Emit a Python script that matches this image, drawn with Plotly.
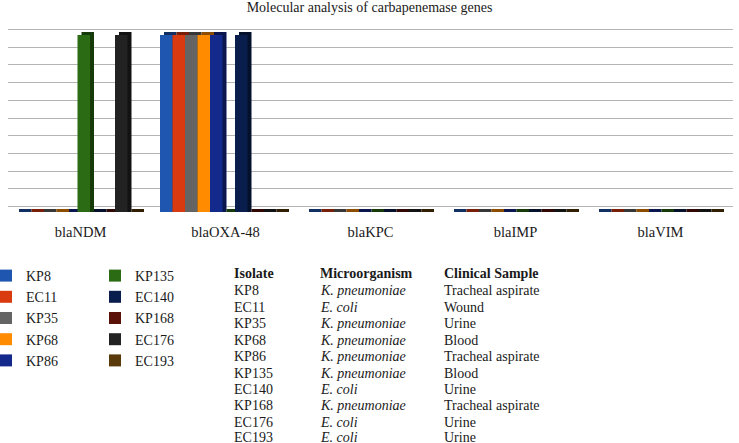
import plotly.graph_objects as go

# ---------------- data ----------------
genes = ["blaNDM", "blaOXA-48", "blaKPC", "blaIMP", "blaVIM"]
isolates = ["KP8", "EC11", "KP35", "KP68", "KP86", "KP135", "EC140", "KP168", "EC176", "EC193"]
kp8 = [0, 1, 0, 0, 0]
ec11 = [0, 1, 0, 0, 0]
kp35 = [0, 1, 0, 0, 0]
kp68 = [0, 1, 0, 0, 0]
kp86 = [0, 1, 0, 0, 0]
kp135 = [1, 0, 0, 0, 0]
ec140 = [0, 1, 0, 0, 0]
kp168 = [0, 0, 0, 0, 0]
ec176 = [1, 0, 0, 0, 0]
ec193 = [0, 0, 0, 0, 0]
series_values = [kp8, ec11, kp35, kp68, kp86, kp135, ec140, kp168, ec176, ec193]

table_headers = ["Isolate", "Microorganism", "Clinical Sample"]
microorganisms = ["K. pneumoniae", "E. coli", "K. pneumoniae", "K. pneumoniae", "K. pneumoniae",
                  "K. pneumoniae", "E. coli", "K. pneumoniae", "E. coli", "E. coli"]
clinical_samples = ["Tracheal aspirate", "Wound", "Urine", "Blood", "Tracheal aspirate",
                    "Blood", "Urine", "Tracheal aspirate", "Urine", "Urine"]

# ---------------- style ----------------
colors = ["#1F57B0", "#D93A0F", "#646464", "#FF8C00", "#13298C",
          "#2B6B14", "#0A1E4E", "#5A1208", "#222222", "#5A3A0A"]


def darker(hexc, f=0.55):
    h = hexc.lstrip("#")
    r, g, b = (int(h[i:i + 2], 16) for i in (0, 2, 4))
    return "#%02x%02x%02x" % (int(r * f), int(g * f), int(b * f))


FONT = "Liberation Serif, Times New Roman, serif"
W, H = 739, 443
ML, MR, MT, MB = 8, 6, 26, 231
PW, PH = W - ML - MR, H - MT - MB
YMAX = 1.0508
bar_w = 0.0862
start = -0.4517
dx = 0.0276
dy = 0.017
grid_shift = 0.031

fig = go.Figure()

# depth (top/side) faces
for j, (name, vals) in enumerate(zip(isolates, series_values)):
    fig.add_trace(go.Bar(
        x=genes, y=[v + dy for v in vals], base=0,
        offset=start + j * bar_w + dx, width=bar_w,
        marker=dict(color=darker(colors[j]), line=dict(width=0)),
        showlegend=False, legendgroup=name, hoverinfo="skip",
    ))

# front faces
for j, (name, vals) in enumerate(zip(isolates, series_values)):
    fig.add_trace(go.Bar(
        x=genes, y=vals, base=0, name=name,
        offset=start + j * bar_w, width=bar_w,
        marker=dict(color=colors[j], line=dict(width=0)),
        legendgroup=name, legend="legend" if j < 5 else "legend2",
    ))


def px2x(px):
    return (px - ML) / PW


def px2y(py):
    return (MT + PH - py) / PH


# table as annotations
col_x = [232, 318, 442]
header_y = 273.5
row_y = [290.5, 307, 323.5, 340, 356.5, 373, 389, 405.5, 422, 437.5]
ann = []
for cx, htxt in zip(col_x, table_headers):
    ann.append(dict(text="<b>%s</b>" % htxt, x=px2x(cx), y=px2y(header_y)))
for i in range(len(isolates)):
    ann.append(dict(text=isolates[i], x=px2x(col_x[0]), y=px2y(row_y[i])))
    ann.append(dict(text="<i>%s</i>" % microorganisms[i], x=px2x(col_x[1]), y=px2y(row_y[i])))
    ann.append(dict(text=clinical_samples[i], x=px2x(col_x[2]), y=px2y(row_y[i])))
for a in ann:
    a.update(xref="paper", yref="paper", xanchor="left", yanchor="middle",
             showarrow=False, font=dict(family=FONT, size=14, color="#1a1a1a"))

legend_common = dict(font=dict(family=FONT, size=14, color="#1a1a1a"),
                     bgcolor="rgba(0,0,0,0)", borderwidth=0, tracegroupgap=0,
                     xanchor="left", yanchor="top", orientation="v")

fig.update_layout(
    width=W, height=H,
    margin=dict(l=ML, r=MR, t=MT, b=MB, autoexpand=False),
    paper_bgcolor="white", plot_bgcolor="white",
    barmode="overlay",
    font=dict(family=FONT),
    title=dict(text="Molecular analysis of carbapenemase genes", x=0.5, xanchor="center",
               y=1 - 7 / H, yanchor="middle", yref="container",
               font=dict(family=FONT, size=14, color="#1a1a1a")),
    xaxis=dict(type="category", range=[-0.5, 4.5], showgrid=False, showline=False,
               zeroline=False, ticks="", ticklabelstandoff=9,
               tickfont=dict(family=FONT, size=14.5, color="#1a1a1a")),
    yaxis=dict(range=[0, YMAX], tickvals=[grid_shift + 0.1 * k for k in range(11)],
               showticklabels=False, showgrid=True, gridcolor="#b4b4b4", gridwidth=1,
               zeroline=False, showline=False, fixedrange=True),
    legend=dict(x=px2x(6 - 20), y=px2y(260), **legend_common),
    legend2=dict(x=px2x(115 - 20), y=px2y(260), **legend_common),
    annotations=ann,
)

fig.write_html("out.html", config={"displayModeBar": False},
               post_script="document.body.style.margin='0';")
